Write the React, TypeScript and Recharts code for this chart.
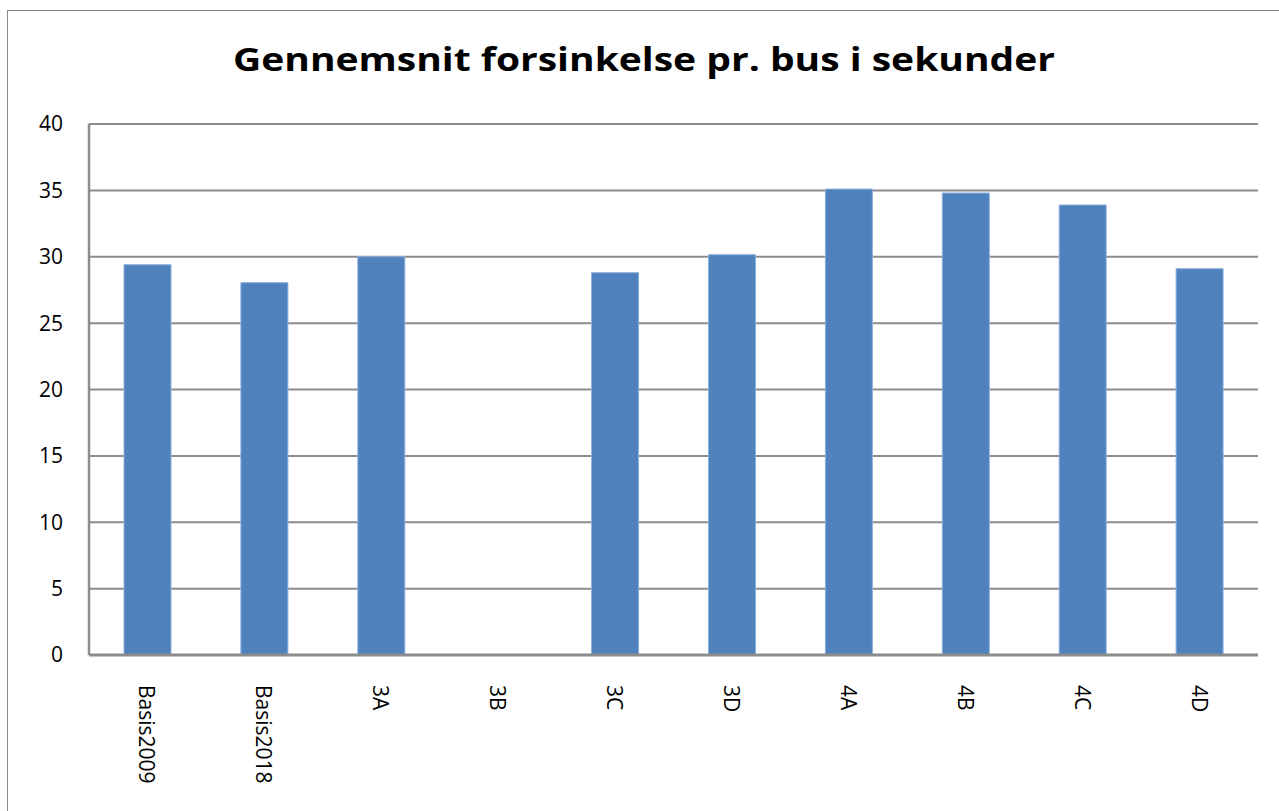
import React from "react";
import { BarChart, Bar, XAxis, YAxis, CartesianGrid } from "recharts";

const categories = ["Basis2009", "Basis2018", "3A", "3B", "3C", "3D", "4A", "4B", "4C", "4D"];
const delays: (number | null)[] = [29.4, 28.05, 30.0, null, 28.8, 30.15, 35.1, 34.8, 33.9, 29.1];
const yTicks = [0, 5, 10, 15, 20, 25, 30, 35, 40];
const title = "Gennemsnit forsinkelse pr. bus i sekunder";

const data = categories.map((c, i) => ({ name: c, value: delays[i] }));

const FONT = "'Open Sans', 'DejaVu Sans', sans-serif";

const XTick = (props: any) => {
  const { x, y, payload } = props;
  return (
    <text
      transform={`translate(${x},${y + 22}) rotate(90)`}
      textAnchor="start"
      dominantBaseline="central"
      fontFamily={FONT}
      fontSize={21}
      fill="#000"
    >
      {payload.value}
    </text>
  );
};

export default function App() {
  return (
    <div
      style={{
        position: "fixed",
        left: 0,
        top: 0,
        width: 1279,
        height: 811,
        overflow: "hidden",
        background: "#fff",
      }}
    >
      <div
        style={{
          position: "absolute",
          left: 7,
          top: 10,
          width: 1400,
          height: 1000,
          border: "1.5px solid #8a8a8a",
        }}
      />
      <svg
        width={1279}
        height={110}
        style={{ position: "absolute", left: 0, top: 0 }}
      >
        <text
          x={644}
          y={71}
          textAnchor="middle"
          fontFamily={FONT}
          fontWeight={700}
          fontSize={33}
          textLength={822}
          lengthAdjust="spacingAndGlyphs"
          fill="#000"
        >
          {title}
        </text>
      </svg>
      <div style={{ position: "absolute", left: 0, top: 0 }}>
        <BarChart
          width={1279}
          height={811}
          data={data}
          margin={{ top: 124, right: 21, bottom: 0, left: 0 }}
        >
          <CartesianGrid
            vertical={false}
            stroke="#8c8c8c"
            strokeWidth={2}
          />
          <YAxis
            width={89}
            domain={[0, 40]}
            ticks={yTicks}
            tickLine={false}
            tickSize={24}
            tickMargin={2}
            axisLine={{ stroke: "#8c8c8c", strokeWidth: 2.5 }}
            tick={{ fontFamily: FONT, fontSize: 21, fill: "#000" }}
            interval={0}
            allowDecimals={false}
          />
          <XAxis
            dataKey="name"
            height={156}
            interval={0}
            tickLine={false}
            axisLine={{ stroke: "#8c8c8c", strokeWidth: 3 }}
            tick={<XTick />}
          />
          <Bar
            dataKey="value"
            fill="#4F81BD"
            stroke="#8db0dd"
            strokeWidth={1}
            barSize={47}
            isAnimationActive={false}
          />
        </BarChart>
      </div>
    </div>
  );
}
